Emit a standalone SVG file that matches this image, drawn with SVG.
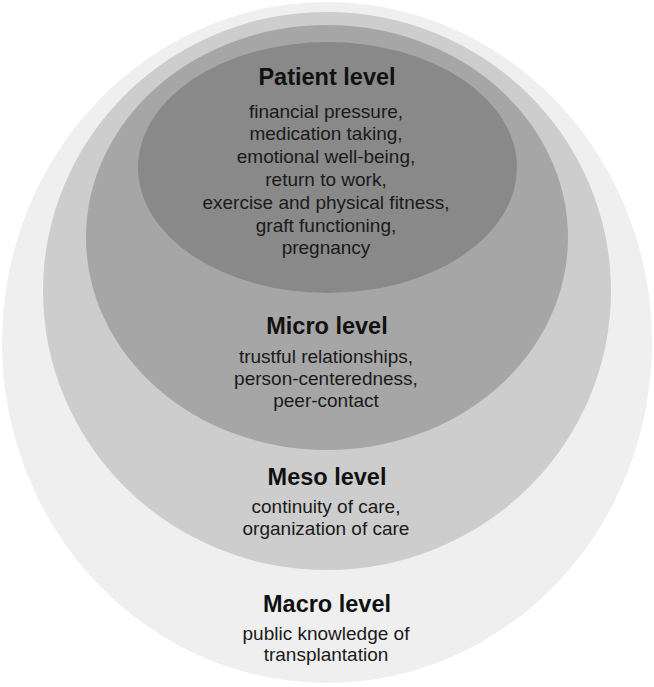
<svg xmlns="http://www.w3.org/2000/svg" width="654" height="687" viewBox="0 0 654 687">
  <style>
    .title { font-family: "Liberation Sans", Arial, sans-serif; font-weight: bold; font-size: 23.5px; fill: #111111; text-anchor: middle; }
    .body { font-family: "Liberation Sans", Arial, sans-serif; font-size: 19px; fill: #1a1a1a; text-anchor: middle; }
  </style>
  <rect x="0" y="0" width="654" height="687" fill="#ffffff"/>
  <g id="macro">
    <ellipse cx="327" cy="342.5" rx="325" ry="340.5" fill="#efefef"/>
  </g>
  <g id="meso">
    <ellipse cx="327" cy="291" rx="284" ry="279" fill="#cdcdcd"/>
  </g>
  <g id="micro">
    <ellipse cx="327" cy="237.5" rx="241" ry="212.5" fill="#a6a6a6"/>
  </g>
  <g id="patient">
    <ellipse cx="327.5" cy="167.5" rx="189.5" ry="125.5" fill="#898989"/>
  </g>
  <g id="connectors"/>
  <g id="patient-text">
    <text class="title" x="327" y="85">Patient level</text>
    <text class="body" x="326" y="117.5">financial pressure,</text>
    <text class="body" x="326" y="140.3">medication taking,</text>
    <text class="body" x="326" y="163.1">emotional well-being,</text>
    <text class="body" x="326" y="185.9">return to work,</text>
    <text class="body" x="326" y="208.7">exercise and physical fitness,</text>
    <text class="body" x="326" y="231.5">graft functioning,</text>
    <text class="body" x="326" y="254.3">pregnancy</text>
  </g>
  <g id="micro-text">
    <text class="title" x="327" y="334">Micro level</text>
    <text class="body" x="326" y="363">trustful relationships,</text>
    <text class="body" x="326" y="385">person-centeredness,</text>
    <text class="body" x="326" y="407">peer-contact</text>
  </g>
  <g id="meso-text">
    <text class="title" x="327" y="485">Meso level</text>
    <text class="body" x="326" y="513">continuity of care,</text>
    <text class="body" x="326" y="535">organization of care</text>
  </g>
  <g id="macro-text">
    <text class="title" x="327" y="612">Macro level</text>
    <text class="body" x="326" y="640">public knowledge of</text>
    <text class="body" x="326" y="661">transplantation</text>
  </g>
</svg>
